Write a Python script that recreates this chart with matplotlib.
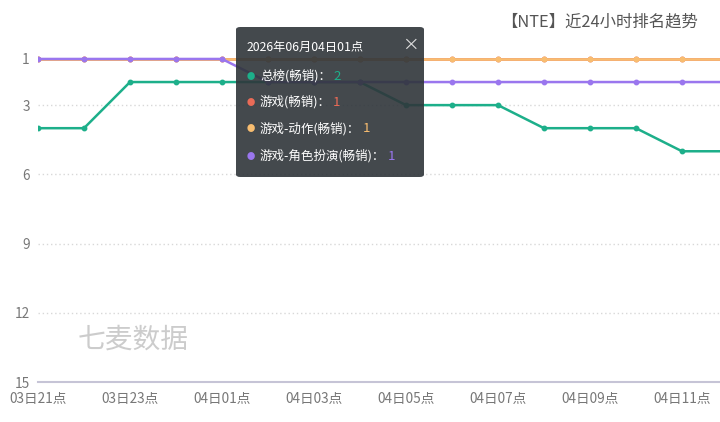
import matplotlib
matplotlib.use('Agg')
import matplotlib.pyplot as plt
from matplotlib.patches import FancyBboxPatch

plt.rcParams['font.family'] = ['Noto Sans CJK SC', 'DejaVu Sans']

# 数据
hours = ['03日21点', '03日22点', '03日23点', '04日00点', '04日01点', '04日02点',
         '04日03点', '04日04点', '04日05点', '04日06点', '04日07点', '04日08点',
         '04日09点', '04日10点', '04日11点', '04日12点']
total_rank = [4, 4, 2, 2, 2, 2, 2, 2, 3, 3, 3, 4, 4, 4, 5, 5]
game_rank = [1] * 16
action_rank = [1] * 16
rpg_rank = [1, 1, 1, 1, 1, 2, 2, 2, 2, 2, 2, 2, 2, 2, 2, 2]
y_ticks = [1, 3, 6, 9, 12, 15]

names = ['总榜(畅销)', '游戏(畅销)', '游戏-动作(畅销)', '游戏-角色扮演(畅销)']
colors = ['#1daf8a', '#ea6b57', '#f8bd70', '#9a76ee']
series = [total_rank, game_rank, action_rank, rpg_rank]

fig = plt.figure(figsize=(7.2, 4.22), dpi=100)
ax = fig.add_axes([38 / 720, 1 - 382 / 422, 682 / 720, 346.1 / 422])

x = list(range(len(hours)))
for vals, c in zip(series, colors):
    ax.plot(x, vals, color=c, lw=1.8, marker='o', ms=3.2, zorder=3, clip_on=True)

ax.set_xlim(0, 682 / 46)
ax.set_ylim(15, 0)
ax.set_yticks(y_ticks)
ax.set_xticks(x[::2])
ax.set_xticklabels(hours[::2])
ax.tick_params(axis='both', length=0, labelsize=9.8, colors='#777777')
ax.tick_params(axis='y', pad=6)
ax.tick_params(axis='x', pad=7)

for t in [3, 6, 9, 12]:
    ax.axhline(t, color='#d8d8d8', lw=1, ls=(0, (1, 2)), zorder=1)

for s in ['top', 'right', 'left']:
    ax.spines[s].set_visible(False)
ax.spines['bottom'].set_color('#c6c4d6')
ax.spines['bottom'].set_linewidth(1.5)

# 标题 & 水印
fig.text(600 / 720, 1 - 22 / 422, '【NTE】近24小时排名趋势', ha='center', va='center',
         fontsize=11.8, color='#555555')
fig.text(78 / 720, 1 - 340 / 422, '七麦数据', ha='left', va='center',
         fontsize=20, color='#cccccc')

# 提示框
box = FancyBboxPatch((236 / 720, 1 - 177 / 422), 188 / 720, 150 / 422,
                     boxstyle='round,pad=0,rounding_size=0.006',
                     transform=fig.transFigure, facecolor='#2f353a', alpha=0.9,
                     edgecolor='none', zorder=10)
fig.add_artist(box)
fig.text(247 / 720, 1 - 47 / 422, '2026年06月04日01点', ha='left', va='center',
         fontsize=8.8, color='white', zorder=11)
fig.text(410 / 720, 1 - 45 / 422, '×', ha='center', va='center',
         fontsize=12, color='#dddddd', zorder=11)
row_y = [76, 102, 129, 156]
vals_now = [series[i][4] for i in range(4)]
for i, (n, c) in enumerate(zip(names, colors)):
    yy = 1 - row_y[i] / 422
    fig.text(251 / 720, yy, '●', ha='center', va='center', fontsize=6, color=c, zorder=11)
    t = fig.text(260 / 720, yy, n + '：', ha='left', va='center',
                 fontsize=9, color='white', zorder=11)
    fig.canvas.draw()
    bb = t.get_window_extent()
    fig.text(bb.x1 / 720 + 2 / 720, yy, str(vals_now[i]), ha='left', va='center',
             fontsize=9.5, color=c, zorder=11)

fig.savefig('out.png', dpi=100)
